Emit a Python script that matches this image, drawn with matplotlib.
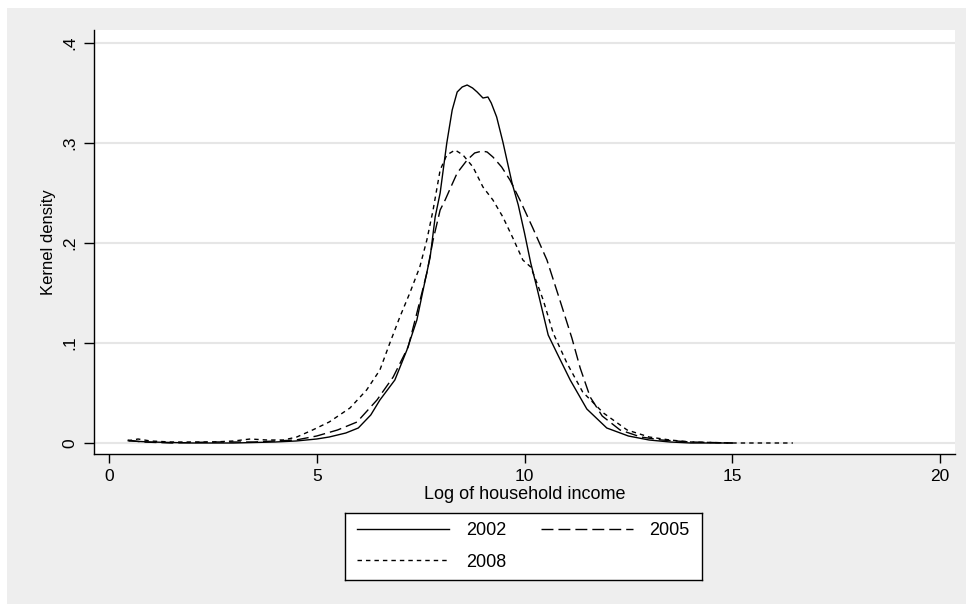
import matplotlib
matplotlib.use("Agg")
import matplotlib.pyplot as plt
from matplotlib.patches import Rectangle

plt.rcParams['font.family'] = ['Liberation Sans', 'DejaVu Sans']

# ---- data ----
x2002 = [0.5, 1.0, 2.0, 3.0, 4.0, 4.5, 5.0, 5.3, 5.7, 6.0, 6.3, 6.52, 6.88, 7.17, 7.41,
         7.56, 7.73, 7.85, 7.97, 8.13, 8.26, 8.38, 8.5, 8.62, 8.75, 8.86, 9.0, 9.12,
         9.2, 9.33, 9.48, 9.7, 9.85, 10.0, 10.15, 10.3, 10.57, 10.78, 11.1, 11.5,
         11.98, 12.5, 13.0, 13.5, 14.0, 15.0]
y2002 = [0.002, 0.001, 0.0, 0.0, 0.001, 0.002, 0.004, 0.006, 0.010, 0.015, 0.028, 0.043,
         0.063, 0.093, 0.123, 0.153, 0.186, 0.226, 0.25, 0.30, 0.333, 0.351, 0.356,
         0.358, 0.355, 0.351, 0.345, 0.346, 0.340, 0.326, 0.301, 0.260, 0.238, 0.21,
         0.18, 0.155, 0.108, 0.09, 0.063, 0.034, 0.015, 0.007, 0.003, 0.001, 0.0, 0.0]

x2005 = [0.45, 0.8, 1.5, 2.5, 3.5, 4.5, 5.0, 5.5, 5.97, 6.45, 6.84, 7.2, 7.41, 7.65, 7.8,
         7.97, 8.09, 8.25, 8.38, 8.62, 8.8, 8.98, 9.1, 9.24, 9.45, 9.65, 9.89, 10.2,
         10.54, 10.85, 11.14, 11.34, 11.58, 11.87, 12.3, 12.8, 13.3, 14.0, 15.0]
y2005 = [0.003, 0.001, 0.0, 0.001, 0.001, 0.003, 0.007, 0.013, 0.021, 0.043, 0.066, 0.096,
         0.13, 0.17, 0.203, 0.233, 0.243, 0.258, 0.27, 0.283, 0.29, 0.292, 0.291, 0.286,
         0.276, 0.263, 0.243, 0.215, 0.183, 0.143, 0.105, 0.075, 0.046, 0.027, 0.013,
         0.006, 0.003, 0.001, 0.0]

x2008 = [0.45, 0.7, 1.0, 1.5, 2.0, 2.5, 3.0, 3.4, 3.8, 4.2, 4.52, 4.9, 5.3, 5.8, 6.2,
         6.52, 6.76, 7.0, 7.24, 7.48, 7.65, 7.8, 7.97, 8.13, 8.33, 8.52, 8.76, 9.0,
         9.24, 9.48, 9.72, 9.96, 10.15, 10.3, 10.45, 10.69, 11.02, 11.4, 11.9, 12.47,
         13.0, 13.5, 14.0, 15.0, 16.46]
y2008 = [0.002, 0.004, 0.002, 0.001, 0.001, 0.001, 0.002, 0.004, 0.003, 0.003, 0.006,
         0.013, 0.021, 0.035, 0.053, 0.073, 0.1, 0.126, 0.15, 0.176, 0.203, 0.233,
         0.273, 0.288, 0.293, 0.288, 0.276, 0.256, 0.243, 0.226, 0.205, 0.183, 0.176,
         0.16, 0.143, 0.11, 0.08, 0.051, 0.03, 0.013, 0.006, 0.003, 0.001, 0.0, 0.0]

series_labels = ["2002", "2005", "2008"]
x_ticks = [0, 5, 10, 15, 20]
y_ticks = [0, 0.1, 0.2, 0.3, 0.4]
y_tick_labels = ["0", ".1", ".2", ".3", ".4"]
x_label = "Log of household income"
y_label = "Kernel density"

# ---- figure ----
W, H = 966, 604
fig = plt.figure(figsize=(W / 100, H / 100), dpi=100, facecolor="white")
fig.patches.append(Rectangle((7 / W, 0), 1, (H - 8) / H, transform=fig.transFigure,
                             facecolor="#eeeeee", edgecolor="none", zorder=-10))

ax = fig.add_axes([94 / W, (H - 454) / H, (955 - 94) / W, (454 - 30) / H])
ax.set_facecolor("white")

l1, = ax.plot(x2002, y2002, color="black", lw=1.0, ls="-")
l2, = ax.plot(x2005, y2005, color="black", lw=1.0, dashes=(8.6, 3.6))
l3, = ax.plot(x2008, y2008, color="black", lw=1.0, dashes=(3.2, 2.9))

ax.set_xlim(-0.36, 20.36)
ax.set_ylim(-0.011, 0.413)
ax.set_xticks(x_ticks)
ax.set_xticklabels([str(v) for v in x_ticks], fontsize=12.5)
ax.set_yticks(y_ticks)
ax.set_yticklabels(y_tick_labels, fontsize=12.5, rotation=90, va="center")
ax.tick_params(axis="x", direction="out", length=6.5, width=1, color="black", pad=4)
ax.tick_params(axis="y", direction="out", length=7, width=1, color="black", pad=5)
ax.grid(axis="y", color="#e6e6e6", lw=1.5)
ax.set_axisbelow(True)
for s in ("top", "right"):
    ax.spines[s].set_visible(False)
for s in ("left", "bottom"):
    ax.spines[s].set_linewidth(1.0)
    ax.spines[s].set_color("black")

ax.set_xlabel(x_label, fontsize=13, labelpad=1.5)
ax.set_ylabel(y_label, fontsize=12, labelpad=4.5)

# legend box
lax = fig.add_axes([345 / W, (H - 580) / H, (702 - 345) / W, (580 - 513) / H])
lax.set_facecolor("white")
lax.set_xticks([])
lax.set_yticks([])
for s in lax.spines.values():
    s.set_linewidth(1.0)
    s.set_color("black")
# order so that rows read 2002, 2005 / 2008 (legend fills column-first)
lax.legend([l1, l3, l2], [series_labels[0], series_labels[2], series_labels[1]],
           loc="center", ncol=2, frameon=False,
           fontsize=13, handlelength=5.1, handletextpad=0.9, columnspacing=1.95,
           labelspacing=0.78, borderpad=0.0)

fig.savefig("out.png", dpi=100, facecolor="white")
